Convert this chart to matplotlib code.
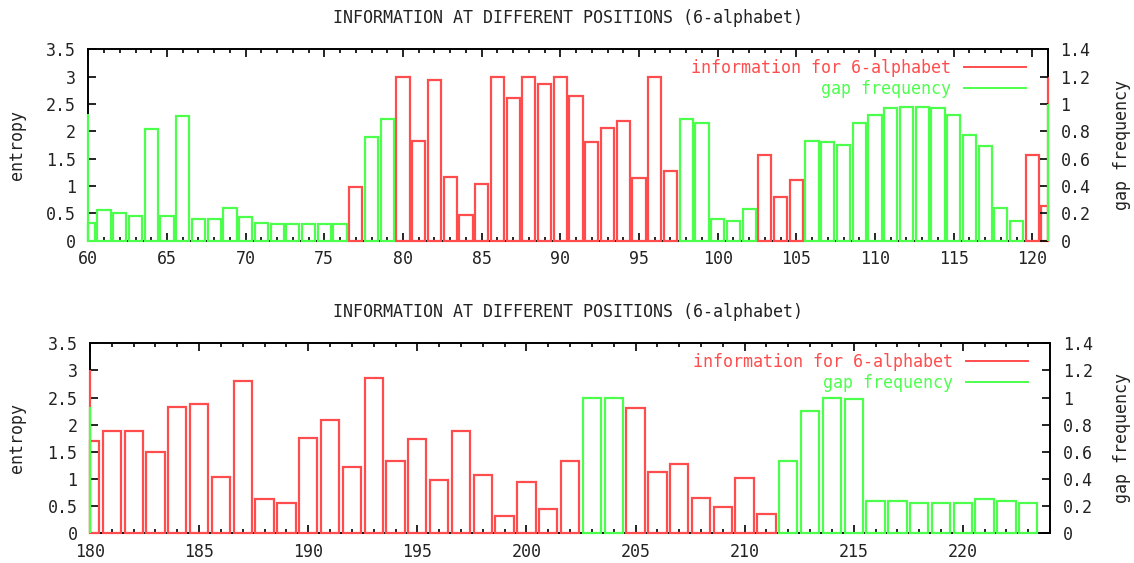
import matplotlib
matplotlib.use('Agg')
import matplotlib.pyplot as plt
import numpy as np
from matplotlib.lines import Line2D

# positions 60-121 (neighbours outside the range get squashed onto the border, gnuplot style)
top_info_pos = [77, 80, 81, 82, 83, 84, 85, 86, 87, 88, 89, 90, 91, 92, 93, 94, 95, 96, 97,
                103, 104, 105, 120, 121, 122]
top_info = [0.98, 3.0, 1.83, 2.94, 1.17, 0.46, 1.04, 3.0, 2.61, 3.0, 2.87, 3.0, 2.64, 1.80,
            2.06, 2.19, 1.15, 3.0, 1.27, 1.57, 0.79, 1.11, 1.57, 0.63, 3.0]
top_gap_pos = [59, 60, 61, 62, 63, 64, 65, 66, 67, 68, 69, 70, 71, 72, 73, 74, 75, 76, 78, 79,
               98, 99, 100, 101, 102, 106, 107, 108, 109, 110, 111, 112, 113, 114, 115, 116,
               117, 118, 119, 122]
top_gap = [0.93, 0.13, 0.22, 0.20, 0.18, 0.82, 0.18, 0.91, 0.16, 0.16, 0.24, 0.17, 0.13, 0.12,
           0.12, 0.12, 0.12, 0.12, 0.76, 0.89, 0.89, 0.86, 0.16, 0.14, 0.23, 0.73, 0.72, 0.70,
           0.86, 0.92, 0.97, 0.98, 0.98, 0.97, 0.92, 0.77, 0.69, 0.24, 0.14, 1.0]

# positions 180-223
bot_info_pos = [178, 180, 181, 182, 183, 184, 185, 186, 187, 188, 189, 190, 191, 192, 193, 194,
                195, 196, 197, 198, 199, 200, 201, 202, 205, 206, 207, 208, 209, 210, 211]
bot_info = [3.0, 1.70, 1.89, 1.89, 1.49, 2.32, 2.38, 1.04, 2.80, 0.64, 0.55, 1.76, 2.09, 1.23,
            2.87, 1.33, 1.73, 0.98, 1.89, 1.07, 0.32, 0.94, 0.45, 1.34, 2.31, 1.13, 1.27, 0.65,
            0.48, 1.01, 0.35]
bot_gap_pos = [179, 203, 204, 212, 213, 214, 215, 216, 217, 218, 219, 220, 221, 222, 223]
bot_gap = [0.93, 1.0, 1.0, 0.53, 0.90, 1.0, 0.99, 0.24, 0.24, 0.22, 0.22, 0.22, 0.25, 0.24, 0.22]

title = 'INFORMATION AT DIFFERENT POSITIONS (6-alphabet)'
RED = '#ff4d4d'
GREEN = '#4dff4d'
FS = 12
BW = 0.84

plt.rcParams['font.family'] = ['DejaVu Sans Mono']
plt.rcParams['font.size'] = FS


def boxes(ax, pos, val, xlim, color):
    # clamp box edges to the x range so outside boxes collapse onto the border
    pos = np.asarray(pos, float)
    left = np.clip(pos - BW / 2, *xlim)
    right = np.clip(pos + BW / 2, *xlim)
    ax.bar(left, val, width=right - left, align='edge', fill=False,
           edgecolor=color, linewidth=1.6, zorder=3, clip_on=False)


def panel(rect, xlim, xmajor, info_pos, info, gap_pos, gap):
    ax = fig.add_axes(rect)
    ax2 = ax.twinx()
    ax.set_xlim(*xlim)
    ax.set_ylim(0, 3.5)
    ax2.set_ylim(0, 1.4)
    boxes(ax, info_pos, info, xlim, RED)
    boxes(ax2, gap_pos, gap, xlim, GREEN)

    ax.set_xticks(xmajor)
    ax.set_xticks(np.arange(xlim[0], xlim[1] + 0.01, 1), minor=True)
    ax.set_yticks(np.arange(0, 3.51, 0.5))
    ax.set_yticklabels(['0', '0.5', '1', '1.5', '2', '2.5', '3', '3.5'])
    ax2.set_yticks(np.arange(0, 1.41, 0.2))
    ax2.set_yticklabels(['0', '0.2', '0.4', '0.6', '0.8', '1', '1.2', '1.4'])

    ax.tick_params(axis='x', which='both', direction='in', top=True, width=1.2, pad=7)
    ax.tick_params(axis='x', which='major', length=6)
    ax.tick_params(axis='x', which='minor', length=3)
    ax.tick_params(axis='y', direction='in', length=6, width=1.2, pad=9, right=False)
    ax2.tick_params(axis='y', direction='in', length=6, width=1.2, pad=9)
    for a in (ax, ax2):
        a.tick_params(labelsize=FS, labelcolor='#222222')
    for s in ax.spines.values():
        s.set_linewidth(1.4)
    for s in ax2.spines.values():
        s.set_visible(False)

    handles = [Line2D([], [], color=RED, lw=1.4), Line2D([], [], color=GREEN, lw=1.4)]
    ax2.legend(handles, ['information for 6-alphabet', 'gap frequency'],
               loc='upper right', bbox_to_anchor=(0.977, 0.948), markerfirst=False,
               frameon=False, labelcolor='linecolor', fontsize=FS, handlelength=3.7,
               handletextpad=0.78, labelspacing=0.14, borderpad=0, borderaxespad=0)
    return ax, ax2


fig = plt.figure(figsize=(11.34, 5.63), dpi=100)

panel([0.0779, 0.5728, 0.8463, 0.3396], (60, 121), np.arange(60, 121, 5),
      top_info_pos, top_info, top_gap_pos, top_gap)
panel([0.0794, 0.0527, 0.8466, 0.3375], (180, 224), np.arange(180, 221, 5),
      bot_info_pos, bot_info, bot_gap_pos, bot_gap)

for ty, ly in [(18, 145), (312, 438)]:
    fig.text(568 / 1134, 1 - ty / 563, title, ha='center', va='center', fontsize=FS,
             color='#222222')
    fig.text(17 / 1134, 1 - ly / 563, 'entropy', rotation=90, ha='center', va='center',
             fontsize=FS, color='#222222')
    fig.text(1122 / 1134, 1 - ly / 563, 'gap frequency', rotation=90, ha='center',
             va='center', fontsize=FS, color='#222222')

fig.savefig('out.png', dpi=100)
